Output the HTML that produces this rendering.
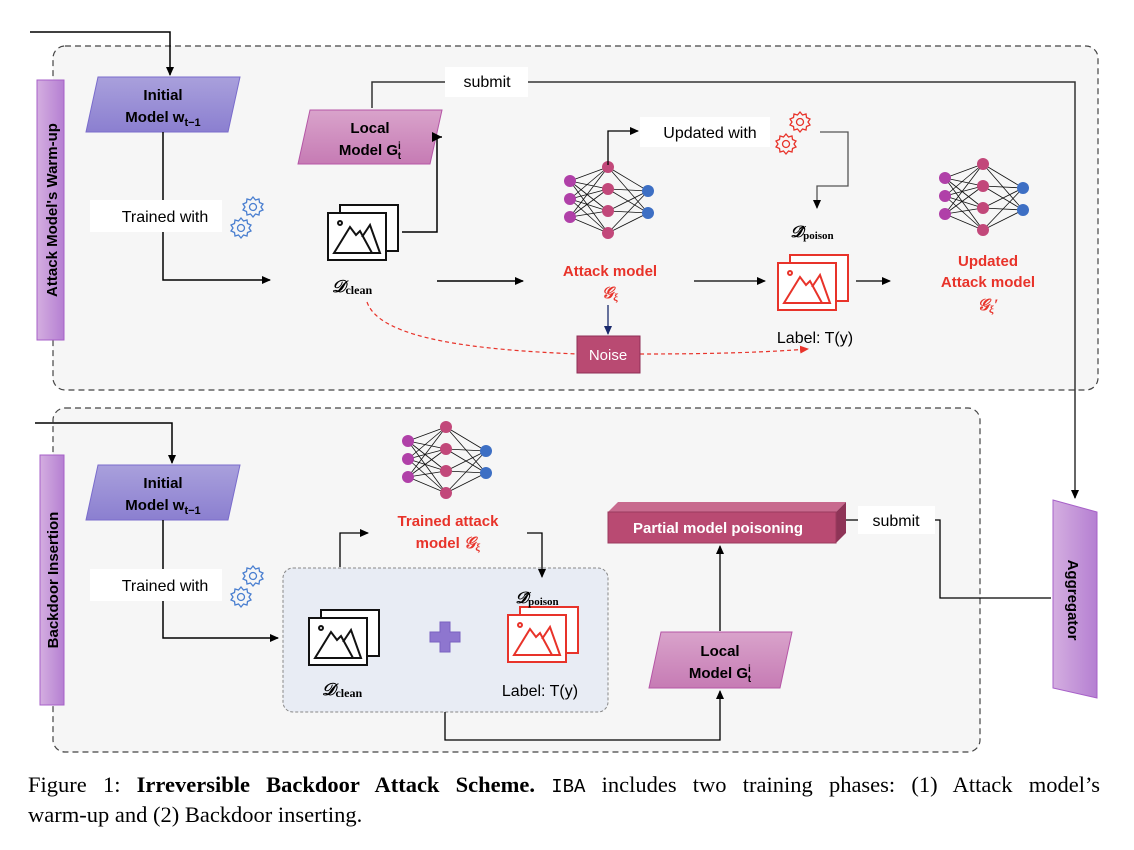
<!DOCTYPE html>
<html><head><meta charset="utf-8"><style>
html,body{margin:0;padding:0;background:#fff;}
svg{display:block;font-family:"Liberation Sans",sans-serif;}
.cap{position:absolute;left:28px;top:771px;width:1072px;font-family:"Liberation Serif",serif;font-size:22.5px;line-height:28px;color:#000;}
.l1{display:block;text-align:justify;text-align-last:justify;white-space:nowrap;}
.mono{font-family:"Liberation Mono",monospace;font-size:19px;}
</style></head><body>
<svg width="1134" height="850" viewBox="0 0 1134 850" xmlns="http://www.w3.org/2000/svg">
<defs>
<marker id="a" markerWidth="10" markerHeight="10" refX="8" refY="5" orient="auto" markerUnits="userSpaceOnUse"><path d="M0,1 L9,5 L0,9 z" fill="#000"/></marker>
<marker id="ar" markerWidth="10" markerHeight="10" refX="8" refY="5" orient="auto" markerUnits="userSpaceOnUse"><path d="M0,1 L9,5 L0,9 z" fill="#e8332a"/></marker>
<marker id="an" markerWidth="10" markerHeight="10" refX="8" refY="5" orient="auto" markerUnits="userSpaceOnUse"><path d="M0,1 L9,5 L0,9 z" fill="#1a2a6c"/></marker>
<linearGradient id="pv" x1="0" y1="0" x2="0" y2="1"><stop offset="0" stop-color="#a9a0dc"/><stop offset="1" stop-color="#8b7fd0"/></linearGradient>
<linearGradient id="pk" x1="0" y1="0" x2="0" y2="1"><stop offset="0" stop-color="#d9a3cb"/><stop offset="1" stop-color="#c67bb4"/></linearGradient>
<linearGradient id="lb" x1="0" y1="0" x2="1" y2="0"><stop offset="0" stop-color="#d4aee0"/><stop offset="1" stop-color="#b57fd2"/></linearGradient>
<g id="nn">
 <g stroke="#111" stroke-width="0.8">
  <line x1="0" y1="14" x2="38" y2="0"/><line x1="0" y1="14" x2="38" y2="22"/><line x1="0" y1="14" x2="38" y2="44"/><line x1="0" y1="14" x2="38" y2="66"/>
  <line x1="0" y1="32" x2="38" y2="0"/><line x1="0" y1="32" x2="38" y2="22"/><line x1="0" y1="32" x2="38" y2="44"/><line x1="0" y1="32" x2="38" y2="66"/>
  <line x1="0" y1="50" x2="38" y2="0"/><line x1="0" y1="50" x2="38" y2="22"/><line x1="0" y1="50" x2="38" y2="44"/><line x1="0" y1="50" x2="38" y2="66"/>
  <line x1="38" y1="0" x2="78" y2="24"/><line x1="38" y1="0" x2="78" y2="46"/><line x1="38" y1="22" x2="78" y2="24"/><line x1="38" y1="22" x2="78" y2="46"/>
  <line x1="38" y1="44" x2="78" y2="24"/><line x1="38" y1="44" x2="78" y2="46"/><line x1="38" y1="66" x2="78" y2="24"/><line x1="38" y1="66" x2="78" y2="46"/>
 </g>
 <g fill="#b040a8"><circle cx="0" cy="14" r="6"/><circle cx="0" cy="32" r="6"/><circle cx="0" cy="50" r="6"/></g>
 <g fill="#c2487a"><circle cx="38" cy="0" r="6"/><circle cx="38" cy="22" r="6"/><circle cx="38" cy="44" r="6"/><circle cx="38" cy="66" r="6"/></g>
 <g fill="#3d6fc4"><circle cx="78" cy="24" r="6"/><circle cx="78" cy="46" r="6"/></g>
</g>
<g id="img" fill="none" stroke-width="2">
 <rect x="12" y="0" width="58" height="46" fill="#fff"/>
 <rect x="0" y="8" width="58" height="47" fill="#fff"/>
 <circle cx="12" cy="18" r="2"/>
 <path d="M6,48 L22,22 L28,30 L32,26 L44,48 Z M34,32 L42,20 L52,48 L44,48"/>
</g>
<g id="gear" fill="none" stroke-width="1.3">
 <path d="M0,-10 L2.5,-7 L6,-8 L6.5,-4.5 L10,-3 L8,0 L10,3 L6.5,4.5 L6,8 L2.5,7 L0,10 L-2.5,7 L-6,8 L-6.5,4.5 L-10,3 L-8,0 L-10,-3 L-6.5,-4.5 L-6,-8 L-2.5,-7 Z"/>
 <circle r="3.5"/>
</g>
</defs>

<!-- TOP PANEL -->
<rect x="53" y="46" width="1045" height="344" rx="12" fill="#f6f6f6" stroke="#444" stroke-width="1.2" stroke-dasharray="6,4"/>
<rect x="37" y="80" width="27" height="260" fill="url(#lb)" stroke="#a760c8"/>
<text transform="translate(57,210) rotate(-90)" text-anchor="middle" font-size="15" font-weight="bold">Attack Model's Warm-up</text>

<polyline points="30,32 170,32 170,75" fill="none" stroke="#000" stroke-width="1.5" marker-end="url(#a)"/>
<polygon points="98,77 240,77 228,132 86,132" fill="url(#pv)" stroke="#7a6ccc"/>
<text x="163" y="100" text-anchor="middle" font-size="15" font-weight="bold">Initial</text>
<text x="163" y="122" text-anchor="middle" font-size="15" font-weight="bold">Model w<tspan font-size="11" dy="4">t−1</tspan></text>

<polyline points="163,132 163,280 270,280" fill="none" stroke="#000" stroke-width="1.5" marker-end="url(#a)"/>
<rect x="90" y="200" width="132" height="32" fill="#fff"/>
<text x="165" y="222" text-anchor="middle" font-size="16">Trained with</text>
<use href="#gear" x="253" y="207" stroke="#4a7fd0"/>
<use href="#gear" x="241" y="228" stroke="#4a7fd0"/>

<polyline points="372,108 372,82 1075,82 1075,498" fill="none" stroke="#333" stroke-width="1.5" marker-end="url(#a)"/>
<rect x="445" y="67" width="83" height="30" fill="#fff"/>
<text x="487" y="87" text-anchor="middle" font-size="16">submit</text>
<polygon points="310,110 442,110 430,164 298,164" fill="url(#pk)" stroke="#b556a6"/>
<text x="370" y="133" text-anchor="middle" font-size="15" font-weight="bold">Local</text>
<text x="370" y="155" text-anchor="middle" font-size="15" font-weight="bold">Model G<tspan font-size="10" dy="-6">i</tspan><tspan font-size="10" dx="-3" dy="10">t</tspan></text>

<use href="#img" x="328" y="205" stroke="#111"/>
<polyline points="402,232 437,232 437,137 442,137" fill="none" stroke="#000" stroke-width="1.5"/>
<path d="M452,137 L442,132 L442,142 Z" fill="#000" transform="translate(-10,0)"/>
<text x="352" y="292" text-anchor="middle" font-family="Liberation Serif,serif" font-size="17" font-style="italic" font-weight="bold">𝒟<tspan font-size="12" font-style="normal" dy="2">clean</tspan></text>
<line x1="437" y1="281" x2="523" y2="281" stroke="#000" stroke-width="1.5" marker-end="url(#a)"/>

<use href="#nn" x="570" y="167"/>
<polyline points="608,165 608,131 638,131" fill="none" stroke="#000" stroke-width="1.3" marker-end="url(#a)"/>
<text x="610" y="276" text-anchor="middle" font-size="15" font-weight="bold" fill="#e8332a">Attack model</text>
<text x="610" y="298" text-anchor="middle" font-size="16" font-style="italic" font-weight="bold" fill="#e8332a" font-family="Liberation Serif,serif">𝒢<tspan font-size="11" dy="3">ξ</tspan></text>

<rect x="640" y="117" width="130" height="30" fill="#fff"/>
<text x="710" y="138" text-anchor="middle" font-size="16">Updated with</text>
<use href="#gear" x="800" y="122" stroke="#e8332a"/>
<use href="#gear" x="786" y="144" stroke="#e8332a"/>
<polyline points="820,132 848,132 848,186 817,186 817,208" fill="none" stroke="#555" stroke-width="1.3" marker-end="url(#a)"/>
<text x="812" y="237" text-anchor="middle" font-family="Liberation Serif,serif" font-size="16" font-style="italic" font-weight="bold">𝒟̂<tspan font-size="11" font-style="normal" dy="2">poison</tspan></text>
<use href="#img" x="778" y="255" stroke="#e8332a"/>
<line x1="694" y1="281" x2="765" y2="281" stroke="#000" stroke-width="1.3" marker-end="url(#a)"/>
<line x1="856" y1="281" x2="890" y2="281" stroke="#000" stroke-width="1.3" marker-end="url(#a)"/>
<text x="815" y="343" text-anchor="middle" font-size="16">Label: T(y)</text>

<use href="#nn" x="945" y="164"/>
<text x="988" y="266" text-anchor="middle" font-size="15" font-weight="bold" fill="#e8332a">Updated</text>
<text x="988" y="287" text-anchor="middle" font-size="15" font-weight="bold" fill="#e8332a">Attack model</text>
<text x="988" y="310" text-anchor="middle" font-size="16" font-style="italic" font-weight="bold" fill="#e8332a" font-family="Liberation Serif,serif">𝒢<tspan font-size="11" dy="3">ξ</tspan><tspan dy="-3">′</tspan></text>

<line x1="608" y1="305" x2="608" y2="334" stroke="#1a2a6c" stroke-width="1.3" marker-end="url(#an)"/>
<path d="M367,302 C380,340 480,350 578,354" fill="none" stroke="#e8332a" stroke-width="1.2" stroke-dasharray="4,3"/>
<path d="M640,354 C720,354 770,352 808,349" fill="none" stroke="#e8332a" stroke-width="1.2" stroke-dasharray="4,3" marker-end="url(#ar)"/>
<rect x="577" y="336" width="63" height="37" fill="#b94a72" stroke="#8e2f55"/>
<text x="608" y="360" text-anchor="middle" font-size="15" fill="#fff">Noise</text>

<!-- BOTTOM PANEL -->
<rect x="53" y="408" width="927" height="344" rx="12" fill="#f6f6f6" stroke="#444" stroke-width="1.2" stroke-dasharray="6,4"/>
<rect x="40" y="455" width="24" height="250" fill="url(#lb)" stroke="#a760c8"/>
<text transform="translate(58,580) rotate(-90)" text-anchor="middle" font-size="15" font-weight="bold">Backdoor Insertion</text>

<polyline points="35,423 172,423 172,463" fill="none" stroke="#000" stroke-width="1.5" marker-end="url(#a)"/>
<polygon points="98,465 240,465 228,520 86,520" fill="url(#pv)" stroke="#7a6ccc"/>
<text x="163" y="488" text-anchor="middle" font-size="15" font-weight="bold">Initial</text>
<text x="163" y="510" text-anchor="middle" font-size="15" font-weight="bold">Model w<tspan font-size="11" dy="4">t−1</tspan></text>
<polyline points="163,520 163,638 278,638" fill="none" stroke="#000" stroke-width="1.5" marker-end="url(#a)"/>
<rect x="90" y="569" width="132" height="32" fill="#fff"/>
<text x="165" y="591" text-anchor="middle" font-size="16">Trained with</text>
<use href="#gear" x="253" y="576" stroke="#4a7fd0"/>
<use href="#gear" x="241" y="597" stroke="#4a7fd0"/>

<rect x="283" y="568" width="325" height="144" rx="10" fill="#e8ecf4" stroke="#888" stroke-dasharray="3,2"/>
<use href="#img" x="309" y="610" stroke="#111"/>
<text x="342" y="695" text-anchor="middle" font-family="Liberation Serif,serif" font-size="17" font-style="italic" font-weight="bold">𝒟<tspan font-size="12" font-style="normal" dy="2">clean</tspan></text>
<path d="M440,622 h10 v10 h10 v10 h-10 v10 h-10 v-10 h-10 v-10 h10 z" fill="#8e76cf" stroke="#7a62c0"/>
<use href="#img" x="508" y="607" stroke="#e8332a"/>
<text x="537" y="603" text-anchor="middle" font-family="Liberation Serif,serif" font-size="16" font-style="italic" font-weight="bold">𝒟̂<tspan font-size="11" font-style="normal" dy="2">poison</tspan></text>
<text x="540" y="696" text-anchor="middle" font-size="16">Label: T(y)</text>

<use href="#nn" x="408" y="427"/>
<text x="448" y="526" text-anchor="middle" font-size="15" font-weight="bold" fill="#e8332a">Trained attack</text>
<text x="448" y="548" text-anchor="middle" font-size="15" font-weight="bold" fill="#e8332a">model <tspan font-family="Liberation Serif,serif" font-style="italic" font-size="16">𝒢<tspan font-size="11" dy="3">ξ</tspan></tspan></text>
<polyline points="340,567 340,533 368,533" fill="none" stroke="#000" stroke-width="1.3" marker-end="url(#a)"/>
<polyline points="527,533 542,533 542,577" fill="none" stroke="#000" stroke-width="1.3" marker-end="url(#a)"/>

<polygon points="608,512 618,502 846,502 836,512" fill="#c86a8e"/>
<polygon points="836,512 846,502 846,533 836,543" fill="#8e3457"/>
<rect x="608" y="512" width="228" height="31" fill="#b94a72" stroke="#9a3a5e"/>
<text x="718" y="533" text-anchor="middle" font-size="15" font-weight="bold" fill="#fff">Partial model poisoning</text>
<polyline points="846,520 940,520 940,598 1051,598" fill="none" stroke="#000" stroke-width="1.3"/>
<rect x="858" y="506" width="77" height="28" fill="#fff"/>
<text x="896" y="526" text-anchor="middle" font-size="16">submit</text>

<polygon points="661,632 792,632 780,688 649,688" fill="url(#pk)" stroke="#b556a6"/>
<text x="720" y="656" text-anchor="middle" font-size="15" font-weight="bold">Local</text>
<text x="720" y="678" text-anchor="middle" font-size="15" font-weight="bold">Model G<tspan font-size="10" dy="-6">i</tspan><tspan font-size="10" dx="-3" dy="10">t</tspan></text>
<line x1="720" y1="631" x2="720" y2="546" stroke="#000" stroke-width="1.3" marker-end="url(#a)"/>
<polyline points="445,712 445,740 720,740 720,691" fill="none" stroke="#000" stroke-width="1.3" marker-end="url(#a)"/>

<polygon points="1053,500 1097,512 1097,698 1053,688" fill="url(#lb)" stroke="#a760c8"/>
<text transform="translate(1068,600) rotate(90)" text-anchor="middle" font-size="15" font-weight="bold">Aggregator</text>
</svg>
<div class="cap"><span class="l1">Figure 1: <b>Irreversible Backdoor Attack Scheme.</b> <span class="mono">IBA</span> includes two training phases: (1) Attack model’s</span>warm-up and (2) Backdoor inserting.</div>
</body></html>
